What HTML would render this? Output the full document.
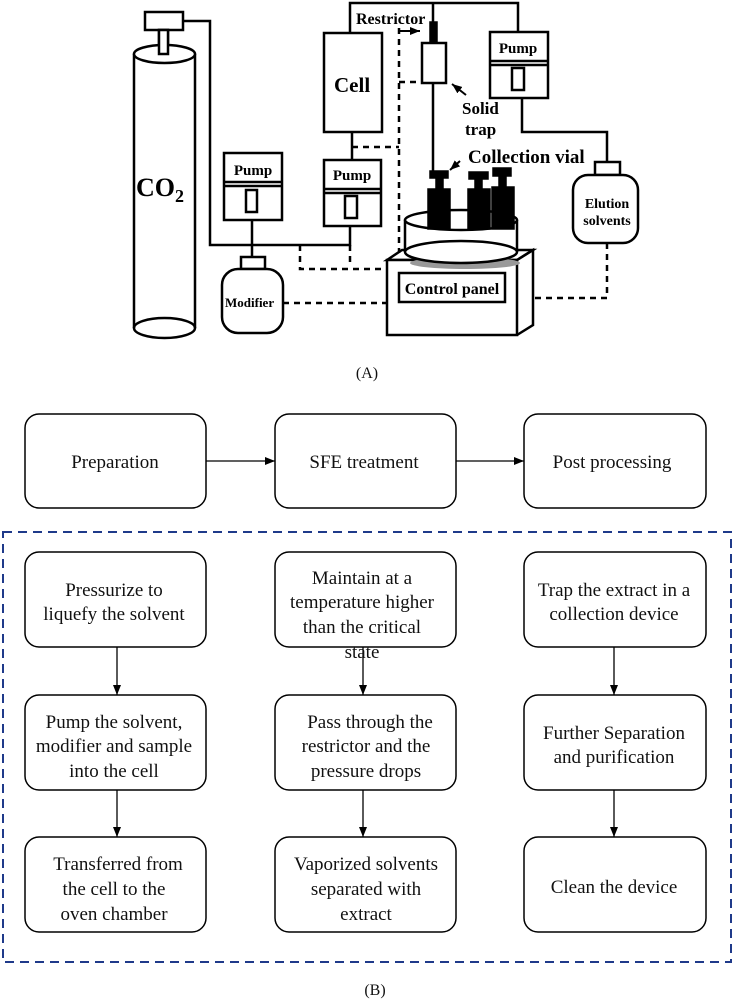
<!DOCTYPE html>
<html><head><meta charset="utf-8"><style>
html,body{margin:0;padding:0;background:#fff;}
svg{display:block;}
.b{font-family:"Liberation Serif",serif;font-weight:bold;fill:#000;}
.t{font-family:"Liberation Serif",serif;font-size:19px;fill:#111;text-anchor:middle;}
</style></head><body>
<svg width="734" height="1001" viewBox="0 0 734 1001" xmlns="http://www.w3.org/2000/svg">
<defs><marker id="ar" markerWidth="10" markerHeight="8" refX="10" refY="4" orient="auto" markerUnits="userSpaceOnUse"><path d="M0,0 L10,4 L0,8 z" fill="#000"/></marker></defs>
<g fill="none" stroke="#000" stroke-width="2.5">
<rect x="145" y="12" width="38" height="18" fill="#fff"/>
<rect x="159" y="30" width="9" height="22" fill="#fff"/>
<path d="M134,54 V328 M195,54 V328"/>
<ellipse cx="164.5" cy="54" rx="30.5" ry="9" fill="#fff"/>
<ellipse cx="164.5" cy="328" rx="30.5" ry="10"/>
<rect x="159" y="30" width="9" height="24" fill="#fff"/>
<path d="M183,21 H210 V245 H350 V226"/>
<rect x="224" y="153" width="58" height="67" fill="#fff"/>
<path d="M224,182 H282 M224,186 H282"/>
<rect x="246" y="190" width="11" height="22"/>
<path d="M252,220 V257"/>
<rect x="241" y="257" width="24" height="12" fill="#fff"/>
<rect x="222" y="269" width="61" height="64" rx="16" fill="#fff"/>
<rect x="324" y="33" width="58" height="99" fill="#fff"/>
<path d="M352,132 V160"/>
<rect x="324" y="160" width="57" height="66" fill="#fff"/>
<path d="M324,189 H381 M324,193 H381"/>
<rect x="345" y="196" width="12" height="22"/>
<path d="M350,33 V3 H518 V32 M433,3 V22"/>
<rect x="422" y="43" width="24" height="40" fill="#fff"/>
<path d="M433,83 V171"/>
<rect x="490" y="32" width="58" height="66" fill="#fff"/>
<path d="M490,61 H548 M490,65 H548"/>
<rect x="512" y="68" width="12" height="22"/>
<path d="M522,98 V132 H607 V162"/>
<rect x="595" y="162" width="25" height="13" fill="#fff"/>
<rect x="573" y="175" width="65" height="68" rx="15" fill="#fff"/>
<path d="M387,260 L402,250 H533 L517,260 Z" fill="#fff"/>
<path d="M517,260 L533,250 V325 L517,335"/>
<rect x="387" y="260" width="130" height="75" fill="#fff"/>
<rect x="399" y="273" width="106" height="29"/>
</g>
<ellipse cx="465" cy="263" rx="55" ry="6" fill="#999"/>
<g fill="none" stroke="#000" stroke-width="2.5">
<path d="M405,220 V252 M517,220 V252" />
<ellipse cx="461" cy="252" rx="56" ry="11" fill="#fff"/>
<ellipse cx="461" cy="220" rx="56" ry="10" fill="#fff"/>
</g>
<g fill="#000" stroke="#000" stroke-width="1.5">
<rect x="428" y="189" width="22" height="40"/><rect x="430" y="171" width="18" height="7"/><rect x="436" y="178" width="7" height="11"/>
<rect x="468" y="189" width="22" height="40"/><rect x="469" y="172" width="19" height="7"/><rect x="475" y="179" width="7" height="10"/>
<rect x="492" y="187" width="22" height="42"/><rect x="493" y="168" width="18" height="8"/><rect x="499" y="176" width="7" height="11"/>
<rect x="430" y="22" width="7" height="20"/>
</g>
<path d="M450,210 H468" stroke="#000" stroke-width="2"/>
<g fill="none" stroke="#000" stroke-width="2.5" stroke-dasharray="6,5">
<path d="M352,147 H399 M399,28 V253 M399,82 H420"/>
<path d="M300,245 V269 H387 M350,245 V265"/>
<path d="M283,303 H387"/>
<path d="M607,243 V298 H533"/>
</g>
<path d="M400,31 H420" stroke="#000" stroke-width="2" marker-end="url(#ar)"/>
<path d="M466,95 L452,84" stroke="#000" stroke-width="2" marker-end="url(#ar)"/>
<path d="M460,161 L450,170" stroke="#000" stroke-width="2" marker-end="url(#ar)"/>
<text class="b" x="136" y="196" font-size="26">CO<tspan font-size="18" dy="6">2</tspan></text>
<text class="b" x="334" y="92" font-size="21">Cell</text>
<text class="b" x="253" y="175" font-size="15" text-anchor="middle">Pump</text>
<text class="b" x="352" y="180" font-size="15" text-anchor="middle">Pump</text>
<text class="b" x="518" y="53" font-size="15" text-anchor="middle">Pump</text>
<text class="b" x="356" y="24" font-size="16">Restrictor</text>
<text class="b" x="462" y="114" font-size="17">Solid</text>
<text class="b" x="465" y="135" font-size="17">trap</text>
<text class="b" x="468" y="163" font-size="19">Collection vial</text>
<text class="b" x="607" y="208" font-size="14" text-anchor="middle">Elution</text>
<text class="b" x="607" y="225" font-size="14" text-anchor="middle">solvents</text>
<text class="b" x="225" y="307" font-size="13">Modifier</text>
<text class="b" x="452" y="294" font-size="16" text-anchor="middle">Control panel</text>
<text class="t" x="367" y="378" style="font-size:16px">(A)</text>
<g fill="#fff" stroke="#000" stroke-width="1.5">
<rect x="25" y="414" width="181" height="94" rx="14"/>
<rect x="275" y="414" width="181" height="94" rx="14"/>
<rect x="524" y="414" width="182" height="94" rx="14"/>
<rect x="25" y="552" width="181" height="95" rx="14"/>
<rect x="275" y="552" width="181" height="95" rx="14"/>
<rect x="524" y="552" width="182" height="95" rx="14"/>
<rect x="25" y="695" width="181" height="95" rx="14"/>
<rect x="275" y="695" width="181" height="95" rx="14"/>
<rect x="524" y="695" width="182" height="95" rx="14"/>
<rect x="25" y="837" width="181" height="95" rx="14"/>
<rect x="275" y="837" width="181" height="95" rx="14"/>
<rect x="524" y="837" width="182" height="95" rx="14"/>
</g>
<rect x="3" y="532" width="728" height="430" fill="none" stroke="#1f3a8a" stroke-width="2" stroke-dasharray="9,6"/>
<g stroke="#000" stroke-width="1.3" marker-end="url(#ar)">
<path d="M206,461 H275"/><path d="M456,461 H524"/>
<path d="M117,647 V695"/><path d="M363,647 V695"/><path d="M614,647 V695"/>
<path d="M117,790 V837"/><path d="M363,790 V837"/><path d="M614,790 V837"/>
</g>
<g class="t">
<text x="115" y="468">Preparation</text>
<text x="364" y="468">SFE treatment</text>
<text x="612" y="468">Post processing</text>
<text x="114" y="596">Pressurize to</text>
<text x="114" y="620">liquefy the solvent</text>
<text x="362" y="584">Maintain at a</text>
<text x="362" y="608">temperature higher</text>
<text x="362" y="633">than the critical</text>
<text x="362" y="658">state</text>
<text x="614" y="596">Trap the extract in a</text>
<text x="614" y="620">collection device</text>
<text x="114" y="728">Pump the solvent,</text>
<text x="114" y="752">modifier and sample</text>
<text x="114" y="777">into the cell</text>
<text x="370" y="728">Pass through the</text>
<text x="366" y="752">restrictor and the</text>
<text x="366" y="777">pressure drops</text>
<text x="614" y="739">Further Separation</text>
<text x="614" y="763">and purification</text>
<text x="118" y="870">Transferred from</text>
<text x="114" y="895">the cell to the</text>
<text x="114" y="920">oven chamber</text>
<text x="366" y="870">Vaporized solvents</text>
<text x="366" y="895">separated with</text>
<text x="366" y="920">extract</text>
<text x="614" y="893">Clean the device</text>
<text x="375" y="995" style="font-size:16px">(B)</text>
</g>
</svg>
</body></html>
